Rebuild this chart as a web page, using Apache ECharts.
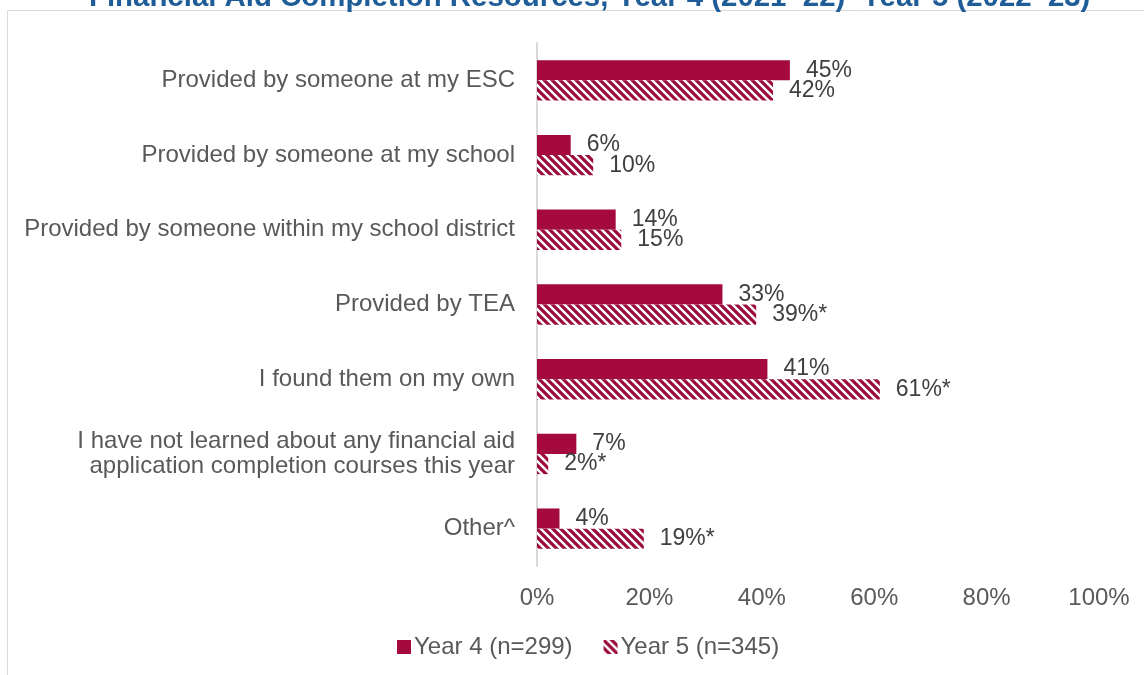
<!DOCTYPE html>
<html><head><meta charset="utf-8">
<script src="https://cdn.jsdelivr.net/npm/echarts@6/dist/echarts.min.js"></script>
<style>html,body{margin:0;padding:0;background:#fff}#c{width:1144px;height:675px}</style>
</head><body><div id="c"></div>
<script>
const titleText = "Financial Aid Completion Resources, Year 4 (2021–22)–Year 5 (2022–23)";
const categories = [
  "Provided by someone at my ESC",
  "Provided by someone at my school",
  "Provided by someone within my school district",
  "Provided by TEA",
  "I found them on my own",
  "I have not learned about any financial aid\napplication completion courses this year",
  "Other^"
];
const seriesNames = ["Year 4 (n=299)", "Year 5 (n=345)"];
const year4 = [45, 6, 14, 33, 41, 7, 4];
const year5 = [42, 10, 15, 39, 61, 2, 19];
const year5Sig = [false, false, false, true, true, true, true];
const xTicks = [0, 20, 40, 60, 80, 100];

const RED = '#A50A3F';
function hatch() {
  const c = document.createElement('canvas');
  const s = 8;
  c.width = s; c.height = s;
  const g = c.getContext('2d');
  g.fillStyle = '#fff'; g.fillRect(0, 0, s, s);
  g.strokeStyle = '#9C0A3C'; g.lineWidth = 3.2;
  g.beginPath();
  for (let k = -1; k <= 1; k++) {
    g.moveTo(k * s - 1, -1); g.lineTo(k * s + s + 1, s + 1);
  }
  g.stroke();
  return c;
}
const pattern = { image: hatch(), repeat: 'repeat' };

const chart = echarts.init(document.getElementById('c'));
const font = 'Arial, "Liberation Sans", sans-serif';
chart.setOption({
  animation: false,
  textStyle: { fontFamily: font },
  title: {
    text: titleText, left: 84, top: -22,
    textStyle: { fontSize: 29.4, fontWeight: 'bold', color: '#1F5D99', fontFamily: font }
  },
  graphic: [{
    type: 'rect', shape: { x: 7.5, y: 10.5, width: 1200, height: 700 },
    style: { fill: 'none', stroke: '#D9D9D9', lineWidth: 1 }, silent: true, z: -1
  }],
  legend: {
    top: 630, left: 392, itemWidth: 14, itemHeight: 14, itemGap: 31,
    textStyle: { fontSize: 24, color: '#595959', fontFamily: font, padding: [0, 0, 0, -2] },
    data: seriesNames.map(n => ({ name: n, icon: 'rect' }))
  },
  grid: { left: 537, right: 45, top: 43, bottom: 109, containLabel: false },
  xAxis: {
    type: 'value', min: 0, max: 100, interval: 20,
    axisLabel: { formatter: v => xTicks.includes(v) ? v + '%' : '', fontSize: 24, color: '#595959', margin: 20 },
    splitLine: { show: false }, axisLine: { show: false }, axisTick: { show: false }
  },
  yAxis: {
    type: 'category', data: categories, inverse: true,
    axisLine: { show: true, lineStyle: { color: '#D9D9D9', width: 2 } },
    axisTick: { show: false },
    axisLabel: { fontSize: 24, color: '#595959', margin: 22, lineHeight: 25, align: 'right' }
  },
  series: [
    {
      name: seriesNames[0], type: 'bar', data: year4, barGap: '0%', barCategoryGap: '46%',
      itemStyle: { color: RED },
      label: { show: true, position: 'right', distance: 16, fontSize: 23, color: '#404040', formatter: p => p.value + '%' }
    },
    {
      name: seriesNames[1], type: 'bar', data: year5, barGap: '0%', barCategoryGap: '46%',
      itemStyle: { color: pattern },
      label: { show: true, position: 'right', distance: 16, fontSize: 23, color: '#404040',
        formatter: p => p.value + '%' + (year5Sig[p.dataIndex] ? '*' : '') }
    }
  ]
});
</script></body></html>
